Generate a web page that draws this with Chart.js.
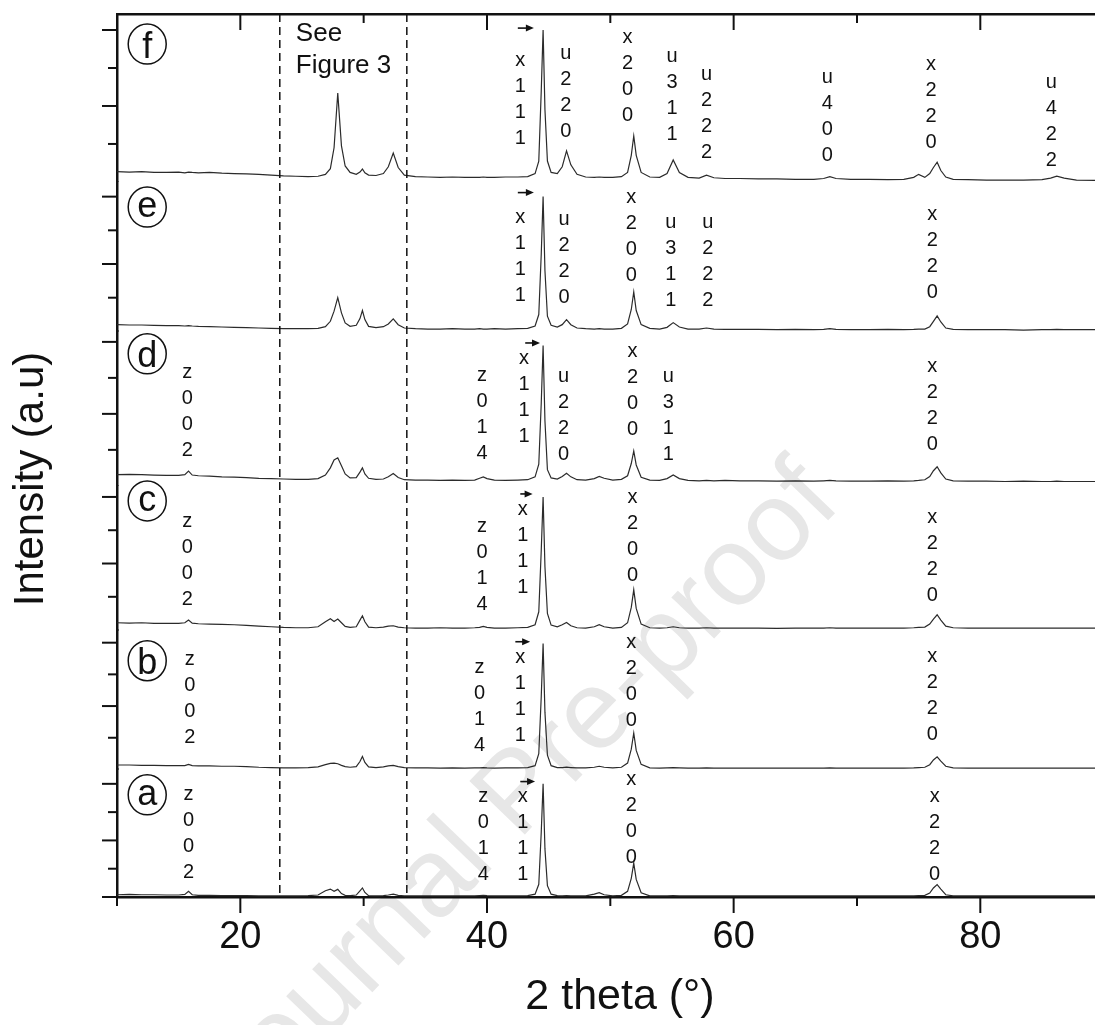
<!DOCTYPE html>
<html>
<head>
<meta charset="utf-8">
<title>XRD patterns (a) - (f)</title>
<script src="https://cdn.jsdelivr.net/npm/chart.js@4.4.1/dist/chart.umd.min.js"></script>
<style>
    html, body { margin: 0; padding: 0; background: #fff; }
    #wrap { width: 1095px; height: 1025px; position: relative; }
</style>
</head>
<body>
<div id="wrap"><canvas id="xrd"></canvas></div>
<script>
// ===== DATA =====
// 2 theta (deg) of the sampled points, shared by all six patterns
const twoTheta = [
    10, 11, 12, 13, 14, 15, 15.5, 15.8, 16.1, 16.6,
    17.5, 18.5, 19.5, 20.5, 21.5, 22.5, 23.5, 24.5, 25.5, 26.3,
    26.9, 27.3, 27.6, 27.9, 28.2, 28.5, 28.9, 29.4, 29.7, 29.9,
    30.1, 30.4, 31.0, 31.6, 32.0, 32.4, 32.8, 33.3, 34.2, 35.2,
    36.2, 37.2, 38.2, 39.0, 39.4, 39.7, 40.0, 40.6, 41.5, 42.5,
    43.3, 43.9, 44.2, 44.4, 44.55, 44.7, 44.9, 45.2, 45.7, 46.1,
    46.45, 46.8, 47.3, 48.0, 48.7, 49.1, 49.5, 50.2, 50.9, 51.4,
    51.7, 51.9, 52.1, 52.5, 53.2, 54.0, 54.6, 55.1, 55.6, 56.3,
    57.2, 57.8, 58.4, 59.3, 60.5, 62.0, 63.5, 65.0, 66.5, 67.3,
    67.8, 68.3, 69.5, 71.0, 72.5, 73.8, 74.6, 75.0, 75.5, 75.9,
    76.2, 76.5, 76.8, 77.2, 77.8, 79.0, 80.5, 82.0, 83.5, 85.0,
    85.7, 86.2, 86.8, 87.8, 89.4
]

// intensities (a.u., each pattern on its own panel scale)
const sampleA = [
    0.08, 0.09, 0.08, 0.08, 0.07, 0.07, 0.09, 0.2, 0.08, 0.06,
    0.06, 0.05, 0.05, 0.05, 0.04, 0.04, 0.04, 0.04, 0.05, 0.07,
    0.22, 0.28, 0.2, 0.27, 0.12, 0.06, 0.05, 0.07, 0.22, 0.32,
    0.16, 0.05, 0.04, 0.05, 0.07, 0.1, 0.06, 0.04, 0.04, 0.04,
    0.04, 0.04, 0.04, 0.04, 0.05, 0.06, 0.05, 0.04, 0.04, 0.04,
    0.05, 0.1, 0.45, 2.3, 4.0, 1.7, 0.4, 0.1, 0.05, 0.04,
    0.05, 0.04, 0.04, 0.04, 0.1, 0.15, 0.08, 0.04, 0.06, 0.2,
    0.66, 1.2, 0.62, 0.15, 0.04, 0.04, 0.04, 0.05, 0.04, 0.04,
    0.04, 0.04, 0.04, 0.04, 0.04, 0.04, 0.04, 0.04, 0.04, 0.04,
    0.04, 0.04, 0.04, 0.04, 0.04, 0.04, 0.04, 0.05, 0.06, 0.14,
    0.32, 0.44, 0.28, 0.08, 0.04, 0.04, 0.04, 0.04, 0.04, 0.04,
    0.04, 0.04, 0.04, 0.04, 0.04
]
const sampleB = [
    0.14, 0.14, 0.13, 0.13, 0.12, 0.12, 0.12, 0.16, 0.12, 0.11,
    0.11, 0.1, 0.1, 0.09, 0.07, 0.06, 0.05, 0.05, 0.06, 0.08,
    0.15, 0.19, 0.2, 0.18, 0.13, 0.09, 0.07, 0.09, 0.25, 0.41,
    0.22, 0.08, 0.06, 0.08, 0.11, 0.13, 0.09, 0.06, 0.05, 0.05,
    0.04, 0.05, 0.04, 0.05, 0.05, 0.06, 0.05, 0.04, 0.05, 0.05,
    0.06, 0.12, 0.5, 2.3, 3.97, 1.8, 0.45, 0.12, 0.06, 0.06,
    0.07, 0.06, 0.05, 0.05, 0.07, 0.1, 0.07, 0.05, 0.07, 0.2,
    0.64, 1.15, 0.6, 0.16, 0.05, 0.04, 0.05, 0.06, 0.05, 0.04,
    0.04, 0.05, 0.04, 0.04, 0.04, 0.04, 0.04, 0.04, 0.04, 0.04,
    0.05, 0.04, 0.04, 0.04, 0.04, 0.04, 0.05, 0.06, 0.07, 0.15,
    0.3, 0.4, 0.26, 0.1, 0.05, 0.04, 0.04, 0.04, 0.04, 0.04,
    0.04, 0.04, 0.04, 0.04, 0.04
]
const sampleC = [
    0.22, 0.21, 0.22, 0.2, 0.2, 0.2, 0.22, 0.3, 0.21, 0.19,
    0.18, 0.17, 0.16, 0.14, 0.12, 0.1, 0.08, 0.07, 0.07, 0.1,
    0.25, 0.34, 0.26, 0.33, 0.22, 0.11, 0.08, 0.1, 0.3, 0.43,
    0.25, 0.09, 0.07, 0.09, 0.12, 0.13, 0.09, 0.07, 0.06, 0.06,
    0.07, 0.06, 0.06, 0.07, 0.08, 0.11, 0.08, 0.06, 0.06, 0.07,
    0.08, 0.16, 0.55, 2.4, 4.0, 1.9, 0.5, 0.15, 0.1, 0.16,
    0.23, 0.13, 0.07, 0.06, 0.1, 0.16, 0.1, 0.06, 0.08, 0.22,
    0.68, 1.21, 0.65, 0.18, 0.07, 0.06, 0.07, 0.1, 0.07, 0.06,
    0.06, 0.07, 0.06, 0.06, 0.06, 0.06, 0.05, 0.06, 0.06, 0.06,
    0.07, 0.06, 0.06, 0.06, 0.06, 0.06, 0.07, 0.08, 0.09, 0.18,
    0.33, 0.46, 0.3, 0.12, 0.07, 0.06, 0.06, 0.06, 0.06, 0.06,
    0.06, 0.06, 0.06, 0.06, 0.06
]
const sampleD = [
    0.31, 0.32, 0.31, 0.3, 0.29, 0.29, 0.31, 0.41, 0.3, 0.28,
    0.27, 0.25, 0.24, 0.23, 0.21, 0.2, 0.19, 0.18, 0.18, 0.2,
    0.3, 0.5, 0.72, 0.78, 0.56, 0.33, 0.22, 0.23, 0.38, 0.5,
    0.33, 0.21, 0.18, 0.19, 0.25, 0.34, 0.23, 0.17, 0.16, 0.16,
    0.15, 0.16, 0.15, 0.16, 0.21, 0.25, 0.2, 0.16, 0.15, 0.16,
    0.17, 0.25, 0.6, 2.3, 3.9, 1.8, 0.45, 0.22, 0.19, 0.26,
    0.35, 0.25, 0.17, 0.16, 0.2, 0.26, 0.21, 0.16, 0.18, 0.28,
    0.62, 0.97, 0.58, 0.24, 0.16, 0.15, 0.2, 0.3, 0.2, 0.15,
    0.14, 0.15, 0.14, 0.15, 0.14, 0.14, 0.13, 0.14, 0.13, 0.14,
    0.15, 0.14, 0.13, 0.13, 0.14, 0.13, 0.14, 0.15, 0.17, 0.26,
    0.42, 0.53, 0.36, 0.19, 0.14, 0.13, 0.13, 0.12, 0.13, 0.12,
    0.12, 0.13, 0.12, 0.12, 0.12
]
const sampleE = [
    0.2, 0.19, 0.19, 0.18, 0.17, 0.17, 0.16, 0.17, 0.16, 0.15,
    0.14, 0.13, 0.12, 0.11, 0.1, 0.09, 0.08, 0.08, 0.08, 0.09,
    0.14, 0.3, 0.6, 1.0, 0.55, 0.25, 0.15, 0.18, 0.38, 0.62,
    0.35, 0.15, 0.11, 0.14, 0.22, 0.37, 0.2, 0.1, 0.08, 0.07,
    0.07, 0.08, 0.07, 0.07, 0.08, 0.07, 0.07, 0.08, 0.07, 0.08,
    0.09, 0.16, 0.5, 2.3, 4.0, 1.8, 0.45, 0.18, 0.13, 0.2,
    0.35, 0.2, 0.1, 0.08, 0.07, 0.08, 0.07, 0.07, 0.09, 0.22,
    0.65, 1.17, 0.62, 0.2, 0.09, 0.07, 0.12, 0.26, 0.13, 0.07,
    0.07, 0.1, 0.07, 0.06, 0.06, 0.06, 0.05, 0.06, 0.05, 0.06,
    0.08, 0.06, 0.05, 0.05, 0.06, 0.05, 0.06, 0.07, 0.07, 0.14,
    0.3, 0.46, 0.28, 0.1, 0.06, 0.05, 0.05, 0.05, 0.04, 0.05,
    0.05, 0.06, 0.05, 0.05, 0.05
]
const sampleF = [
    0.27, 0.26, 0.27, 0.25, 0.25, 0.26, 0.24, 0.26, 0.25, 0.24,
    0.25, 0.23, 0.22, 0.21, 0.2, 0.18, 0.16, 0.15, 0.14, 0.15,
    0.2, 0.35, 0.9, 2.34, 0.95, 0.42, 0.25, 0.2, 0.26, 0.34,
    0.24, 0.18, 0.17, 0.22, 0.4, 0.76, 0.38, 0.18, 0.14, 0.13,
    0.12, 0.13, 0.12, 0.12, 0.12, 0.13, 0.12, 0.12, 0.13, 0.13,
    0.14, 0.22, 0.55, 2.4, 4.0, 1.9, 0.55, 0.25, 0.22, 0.4,
    0.82, 0.45, 0.2, 0.13, 0.12, 0.13, 0.12, 0.12, 0.14, 0.25,
    0.7, 1.21, 0.7, 0.25, 0.13, 0.12, 0.22, 0.58, 0.25, 0.12,
    0.1, 0.18, 0.11, 0.09, 0.09, 0.08, 0.08, 0.07, 0.07, 0.09,
    0.14, 0.09, 0.07, 0.07, 0.06, 0.07, 0.12, 0.2, 0.12, 0.22,
    0.38, 0.52, 0.3, 0.13, 0.07, 0.06, 0.05, 0.05, 0.05, 0.06,
    0.1, 0.15, 0.1, 0.05, 0.04
]

const panelNames = ['a', 'b', 'c', 'd', 'e', 'f']
const xTickValues = [10, 20, 30, 40, 50, 60, 70, 80]
const xTickLabels = [20, 40, 60, 80]
const yTickValues = [1, 2, 3, 4]
const seeFigureBounds = [23.2, 33.5]

// peak assignments: panel, 2 theta, height of first character, text
const peakLabels = [
    ['f', 42.7, 3.21, 'x111'], ['f', 46.4, 3.39, 'u220'], ['f', 51.4, 3.79, 'x200'], ['f', 55.0, 3.29, 'u311'],
    ['f', 57.8, 2.82, 'u222'], ['f', 67.6, 2.76, 'u400'], ['f', 76.0, 3.08, 'x220'], ['f', 85.75, 2.63, 'u422'],
    ['e', 42.7, 3.37, 'x111'], ['e', 46.25, 3.31, 'u220'], ['e', 51.7, 3.97, 'x200'], ['e', 54.9, 3.23, 'u311'],
    ['e', 57.9, 3.23, 'u222'], ['e', 76.1, 3.46, 'x220'],
    ['d', 15.7, 3.14, 'z002'], ['d', 39.6, 3.08, 'z014'], ['d', 43.0, 3.53, 'x111'], ['d', 46.2, 3.03, 'u220'],
    ['d', 51.8, 3.72, 'x200'], ['d', 54.7, 3.03, 'u311'], ['d', 76.1, 3.31, 'x220'],
    ['c', 15.7, 3.25, 'z002'], ['c', 39.6, 3.1, 'z014'], ['c', 42.9, 3.61, 'x111'], ['c', 51.8, 3.97, 'x200'],
    ['c', 76.1, 3.37, 'x220'],
    ['b', 15.9, 3.46, 'z002'], ['b', 39.4, 3.21, 'z014'], ['b', 42.7, 3.52, 'x111'], ['b', 51.7, 4.0, 'x200'],
    ['b', 76.1, 3.56, 'x220'],
    ['a', 15.8, 3.61, 'z002'], ['a', 39.7, 3.55, 'z014'], ['a', 42.9, 3.55, 'x111'], ['a', 51.7, 4.14, 'x200'],
    ['a', 76.3, 3.55, 'x220']
]
// shift arrows above x111: panel, from, to, height
const shiftArrows = [
    ['f', 42.5, 43.8, 4.05], ['e', 42.5, 43.8, 4.12], ['d', 43.1, 44.3, 3.97],
    ['c', 42.7, 43.7, 4.09], ['b', 42.3, 43.5, 4.03], ['a', 42.7, 43.9, 4.08]
]
// circled sample letters: panel, 2 theta, height
const panelTags = [
    ['f', 12.45, 3.63], ['e', 12.45, 3.69], ['d', 12.45, 3.67],
    ['c', 12.45, 3.88], ['b', 12.45, 3.43], ['a', 12.45, 3.61]
]

// ===== LAYOUT (panel pixel height / pixels per unit) =====
const panelBox = {
    a: { h: 127.6, step: 28.3 },
    b: { h: 139.4, step: 31.7 },
    c: { h: 144.3, step: 33.3 },
    d: { h: 154.5, step: 36 },
    e: { h: 149.5, step: 33.7 },
    f: { h: 168, step: 38 }
}
const series = { a: sampleA, b: sampleB, c: sampleC, d: sampleD, e: sampleE, f: sampleF }
const FONT = '"Liberation Sans", Arial, sans-serif'
const INK = '#111'

function line(ctx, x1, y1, x2, y2) {
    ctx.beginPath()
    ctx.moveTo(x1, y1)
    ctx.lineTo(x2, y2)
    ctx.stroke()
}

// ===== EXTRA DRAWING (ticks, labels, markers) =====
const extras = {
    id: 'extras',
    beforeDraw(chart) {
        const ctx = chart.ctx
        ctx.save()
        ctx.translate(520, 795)
        ctx.rotate(-46 * Math.PI / 180)
        ctx.fillStyle = '#e7e7e7'
        ctx.font = '112px ' + FONT
        ctx.textAlign = 'center'
        ctx.textBaseline = 'middle'
        ctx.fillText('Journal Pre-proof', 0, 0)
        ctx.restore()
    },
    afterDraw(chart) {
        const ctx = chart.ctx
        const area = chart.chartArea
        const x = chart.scales.x
        ctx.save()
        ctx.strokeStyle = INK
        ctx.fillStyle = INK

        // bottom and top tick marks
        ctx.lineWidth = 2
        xTickValues.forEach(v => {
            const px = x.getPixelForValue(v)
            const len = v % 20 === 0 ? 16 : 9
            line(ctx, px, area.bottom, px, area.bottom + len)
            line(ctx, px, area.top, px, area.top + len)
        })

        // left tick marks, one set per panel
        panelNames.forEach(p => {
            const s = chart.scales['y' + p]
            const values = p === 'a' ? [0].concat(yTickValues) : yTickValues
            values.forEach(v => {
                const py = s.getPixelForValue(v)
                const len = v % 2 === 0 ? 15 : 9
                line(ctx, s.right, py, s.right - len, py)
            })
        })

        // dashed region "See Figure 3"
        ctx.lineWidth = 1.5
        ctx.setLineDash([8, 5])
        seeFigureBounds.forEach(v => {
            const px = x.getPixelForValue(v)
            line(ctx, px, area.top, px, area.bottom)
        })
        ctx.setLineDash([])

        ctx.font = '26px ' + FONT
        ctx.textAlign = 'left'
        ctx.textBaseline = 'middle'
        const fy = chart.scales.yf
        ctx.fillText('See', x.getPixelForValue(24.5), fy.getPixelForValue(3.89))
        ctx.fillText('Figure 3', x.getPixelForValue(24.5), fy.getPixelForValue(3.05))

        // circled letters
        ctx.font = '36px ' + FONT
        ctx.textAlign = 'center'
        ctx.textBaseline = 'alphabetic'
        ctx.lineWidth = 1.5
        panelTags.forEach(([p, t, v]) => {
            const cx = x.getPixelForValue(t)
            const cy = chart.scales['y' + p].getPixelForValue(v)
            ctx.beginPath()
            ctx.ellipse(cx, cy, 19, 20, 0, 0, Math.PI * 2)
            ctx.stroke()
            const m = ctx.measureText(p)
            ctx.fillText(p, cx, cy + (m.actualBoundingBoxAscent - m.actualBoundingBoxDescent) / 2)
        })

        // hkl labels written as vertical columns
        ctx.font = '20px ' + FONT
        ctx.textBaseline = 'middle'
        peakLabels.forEach(([p, t, v, text]) => {
            const px = x.getPixelForValue(t)
            const py = chart.scales['y' + p].getPixelForValue(v)
            text.split('').forEach((ch, i) => ctx.fillText(ch, px, py + i * 26))
        })

        // small arrows
        ctx.lineWidth = 1.6
        shiftArrows.forEach(([p, t1, t2, v]) => {
            const s = chart.scales['y' + p]
            const x1 = x.getPixelForValue(t1)
            const x2 = x.getPixelForValue(t2)
            const py = s.getPixelForValue(v)
            line(ctx, x1, py, x2 - 5, py)
            ctx.beginPath()
            ctx.moveTo(x2, py)
            ctx.lineTo(x2 - 8, py - 3.5)
            ctx.lineTo(x2 - 8, py + 3.5)
            ctx.closePath()
            ctx.fill()
        })

        // axis titles
        ctx.font = '43px ' + FONT
        ctx.textAlign = 'center'
        ctx.textBaseline = 'middle'
        ctx.fillText('2 theta (\u00b0)', 620, 997)

        ctx.translate(31, 479)
        ctx.rotate(-Math.PI / 2)
        ctx.font = '42px ' + FONT
        ctx.fillText('Intensity (a.u)', 0, 0)
        ctx.restore()
    }
}

// ===== SCALES =====
const scales = {
    x: {
        type: 'linear',
        position: 'bottom',
        min: 10,
        max: 89.3,
        grid: { display: false, drawTicks: false },
        border: { display: true, width: 2.5, color: INK },
        ticks: {
            stepSize: 10,
            includeBounds: false,
            autoSkip: false,
            maxRotation: 0,
            padding: 18,
            color: INK,
            font: { family: FONT, size: 38 },
            callback: v => xTickLabels.includes(v) ? String(v) : ''
        }
    },
    x2: {
        type: 'linear',
        position: 'top',
        min: 10,
        max: 89.3,
        grid: { display: false, drawTicks: false },
        border: { display: true, width: 2.5, color: INK },
        ticks: { display: false }
    }
}
panelNames.forEach((p, i) => {
    scales['y' + p] = {
        type: 'linear',
        position: 'left',
        stack: 'patterns',
        stackWeight: panelBox[p].h,
        weight: i + 1,
        min: 0,
        max: panelBox[p].h / panelBox[p].step,
        grid: { display: false, drawTicks: false },
        border: { display: true, width: 2.5, color: INK },
        ticks: { display: false, stepSize: 1 }
    }
})

const ctx = document.querySelector('#xrd').getContext('2d')

new Chart(ctx, {
    type: 'line',
    data: {
        datasets: panelNames.map(p => ({
            label: '(' + p + ')',
            data: twoTheta.map((t, i) => ({ x: t, y: series[p][i] })),
            yAxisID: 'y' + p,
            borderColor: '#2b2b2b',
            borderWidth: 1.2,
            pointRadius: 0,
            tension: 0,
            fill: false
        }))
    },
    options: {
        responsive: true,
        maintainAspectRatio: false,
        animation: false,
        layout: { padding: { left: 117, top: 14, right: 0, bottom: 46.4 } },
        plugins: {
            legend: { display: false },
            tooltip: { enabled: false }
        },
        scales: scales
    },
    plugins: [extras]
})
</script>
</body>
</html>
